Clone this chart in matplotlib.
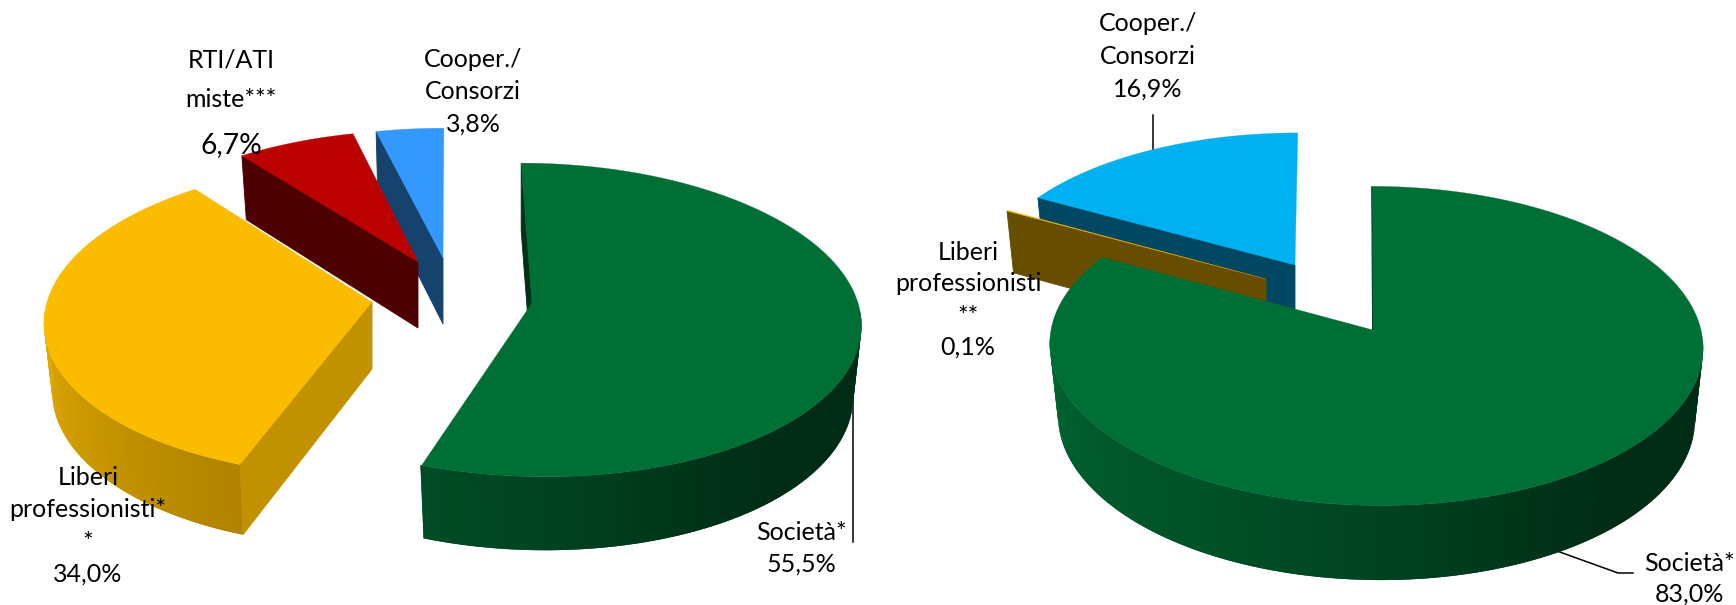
import numpy as np
import matplotlib
matplotlib.use("Agg")
from matplotlib import pyplot as plt
from matplotlib.colors import to_rgb
from matplotlib.patches import Polygon

plt.rcParams['font.family'] = ['Lato', 'DejaVu Sans']

# values
labels_left = ["Società*", "Liberi\nprofessionisti*\n*", "RTI/ATI\nmiste***", "Cooper./\nConsorzi"]
values_left = [55.5, 34.0, 6.7, 3.8]
colors_left = ["#006f36", "#fbbc00", "#bb0000", "#3399ff"]

labels_right = ["Società*", "Liberi\nprofessionisti\n**", "Cooper./\nConsorzi"]
values_right = [83.0, 0.1, 16.9]
colors_right = ["#006f36", "#fbbc00", "#00b0f0"]

# how each exploded slice is projected, in pixels: apex x, apex y, rim offset x,
# radius x, radius y, perspective, shear, depth
geom_left = [(532, 303, 0, 326, 155, 0.108, 12, 70),
             (372, 302, 0, 325, 155, 0.109, -9, 67),
             (418, 262, 0, 316, 146, 0.109, -3, 66),
             (443, 258, 0, 317, 144, 0.109, -1, 66)]
geom_right = [(1373, 330, 3, 325, 158, 0.10, 4.4, 71),
              (1266, 279, 0, 310, 147, 0.09, -3, 63),
              (1295, 265, 0, 309, 144, 0.09, -3, 65)]

# (x centre, baselines of the name lines, baseline of the value, value font scale)
text_left = [(801, [540], 572, 1.0),
             (88, [485, 517, 550], 582, 1.0),
             (231, [67, 107], 153, 1.13),
             (473, [67, 99], 132, 1.0)]
text_right = [(1689, [571], 602, 1.0),
              (968, [260, 291, 324], 355, 1.0),
              (1148, [31, 64], 97, 1.0)]

FONT_SIZE = 18


def rim(g, theta, bottom=False):
    # point on the slice rim, theta in degrees clockwise from 12 o'clock
    ax_, ay, dx, rx, ry, k, s, depth = g
    t = np.radians(theta)
    if bottom:
        ay = ay + depth
        rx = rx * 0.975
        ry = ry * 1.02
    w = 1 + k * np.cos(t)
    x = ax_ + dx + (rx * np.sin(t) - s * np.cos(t)) / w
    y = ay - ry * np.cos(t) / w
    return x, y


def shade(color, factor):
    return tuple(c * factor for c in to_rgb(color))


def wall_factor(theta):
    return np.interp(theta, [90, 140, 200, 270, 300], [0.40, 0.40, 0.70, 0.92, 0.95])


def draw_wall(ax, g, a0, a1, color):
    # outer wall in overlapping strips for the gradient, so no seams show
    thetas = np.arange(a0, a1 + 1, 1.0)
    thetas = thetas[np.cos(np.radians(thetas)) < -0.05]
    for i, t0 in enumerate(thetas[:-1]):
        t1 = thetas[-1] if i + 2 >= len(thetas) else thetas[i + 2]
        ts = np.linspace(t0, t1, 5)
        xt, yt = rim(g, ts)
        xb, yb = rim(g, ts, bottom=True)
        pts = list(zip(xt, yt)) + list(zip(xb[::-1], yb[::-1]))
        ax.add_patch(Polygon(pts, closed=True, fc=shade(color, wall_factor(t0)), ec="none", lw=0))


def draw_slice(ax, g, a0, a1, color, cut_factor):
    apex = (g[0], g[1])
    apex_b = (g[0], g[1] + g[7])
    # cut face at the start of the slice
    x0, y0 = rim(g, a0)
    xb, yb = rim(g, a0, bottom=True)
    ax.add_patch(Polygon([(x0, y0), apex, apex_b, (xb, yb)], closed=True,
                         fc=shade(color, cut_factor), ec=shade(color, cut_factor), lw=0.6))
    draw_wall(ax, g, a0, a1, color)
    # top surface
    ts = np.linspace(a0, a1, max(int(a1 - a0) * 2, 4))
    xs, ys = rim(g, ts)
    pts = [apex] + list(zip(xs, ys))
    ax.add_patch(Polygon(pts, closed=True, fc=color, ec=color, lw=0.2))


def draw_pie(ax, values, colors, geoms, cut_factors, order):
    edges = np.concatenate([[0], np.cumsum(values)]) / np.sum(values) * 360
    for i in order:
        draw_slice(ax, geoms[i], edges[i], edges[i + 1], colors[i], cut_factors[i])


def draw_labels(ax, labels, values, texts):
    for lab, val, (xc, bases, val_base, scale) in zip(labels, values, texts):
        for line, yb in zip(lab.split("\n"), bases):
            ax.text(xc, yb, line, ha="center", va="baseline", fontsize=FONT_SIZE, color="black")
        s = f"{val:.1f}%".replace(".", ",")
        ax.text(xc, val_base, s, ha="center", va="baseline", fontsize=FONT_SIZE * scale, color="black")


fig = plt.figure(figsize=(17.36, 6.05), dpi=100)
ax = fig.add_axes([0, 0, 1, 1])
ax.set_xlim(0, 1736)
ax.set_ylim(605, 0)
ax.axis("off")

# leader lines go under the pies
ax.plot([853, 853], [398, 542], color="black", lw=1.1, zorder=0.5)
ax.plot([1153, 1153], [115, 151], color="black", lw=1.1, zorder=0.5)
ax.plot([1557, 1618, 1633], [551, 573, 573], color="black", lw=1.1, zorder=0.5)

draw_pie(ax, values_left, colors_left, geom_left, [0.45, 0.77, 0.41, 0.43], [3, 2, 1, 0])
draw_pie(ax, values_right, colors_right, geom_right, [0.45, 0.41, 0.41], [2, 1, 0])

draw_labels(ax, labels_left, values_left, text_left)
draw_labels(ax, labels_right, values_right, text_right)

fig.savefig("out.png", dpi=100)
